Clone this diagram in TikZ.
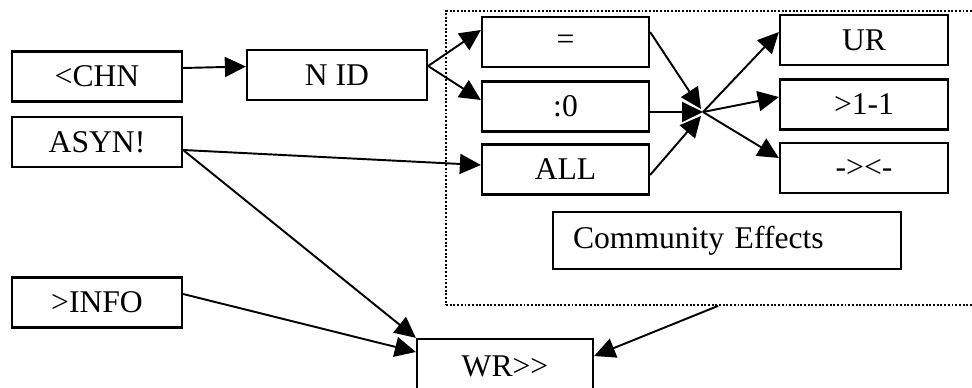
\documentclass[tikz,border=0pt]{standalone}
\usepackage{fontspec}
\setmainfont{Liberation Serif}
\usetikzlibrary{arrows.meta,calc}
\begin{document}
\begin{tikzpicture}[x=0.02cm,y=-0.02cm,
  box/.style={draw, line width=1.3pt, minimum width=3.4cm, minimum height=1cm,
    inner sep=0pt, font=\fontsize{18}{20}\selectfont},
  link/.style={line width=1.1pt, -{Triangle[length=0.42cm,width=0.4cm]}},
  frame/.style={draw, densely dotted, line width=1.1pt, inner sep=0pt}]
\clip (0,0) rectangle (972,388);

% dotted frame round the community-effects group
\node[frame, minimum width=10.88cm, minimum height=5.88cm] (frame) at (718,158) {};

% left column
\node[box] (chn)  at (97,76.5)  {<CHN};
\node[box] (asyn) at (97,142)   {ASYN!};
\node[box] (info) at (97,302.5) {>INFO};
\node[box, minimum width=3.6cm] (nid) at (337,75) {N ID};

% inputs inside the frame
\node[box, minimum width=3.34cm] (eq)   at (565.5,42)    {=};
\node[box, minimum width=3.34cm] (zero) at (565.5,106.5) {:0};
\node[box, minimum width=3.34cm] (all)  at (565.5,169.5) {ALL};

% outcomes
\node[box, minimum width=3.36cm] (ur)    at (864,40)    {UR};
\node[box, minimum width=3.36cm] (one)   at (864,104.5) {>1-1};
\node[box, minimum width=3.36cm] (cross) at (864,168)   {-{}>{}<{}-};

\node[box, text width=6.16cm, inner xsep=0.4cm, align=left, minimum height=1.14cm]
  (comm) at (727,240.5) {Community Effects};

\node[box, minimum width=3.52cm, minimum height=1.08cm] (wr) at (505,366) {WR>{}>};

\coordinate (hub) at (703,112);

% connectors
\draw[link] ([yshift=0.17cm]chn.east) -- ([yshift=0.17cm]nid.west);
\draw[link] ([yshift=0.18cm]nid.east) -- ([yshift=0.24cm]eq.west);
\draw[link] ([yshift=0.18cm]nid.east) -- ([yshift=0.13cm]zero.west);

\draw[link] ([yshift=0.2cm]eq.east)    -- ([shift={(-2,-3)}]hub);
\draw[link] ([yshift=-0.11cm]zero.east) -- (hub);
\draw[link] ([yshift=-0.11cm]all.east)  -- ([shift={(-2,4)}]hub);

\draw[link] (hub) -- ([yshift=0.16cm]ur.west);
\draw[link] (hub) -- ([yshift=0.15cm]one.west);
\draw[link] (hub) -- ([yshift=0.2cm]cross.west);

\draw[link] ([yshift=-0.16cm]asyn.east) -- ([yshift=0.09cm]all.west);
\draw[link] ([yshift=-0.16cm]asyn.east) -- (wr.north west);
\draw[link] ([yshift=0.17cm]info.east)  -- ([yshift=0.28cm]wr.west);
\draw[link] (frame.south) -- ([yshift=0.2cm]wr.east);
\end{tikzpicture}
\end{document}
